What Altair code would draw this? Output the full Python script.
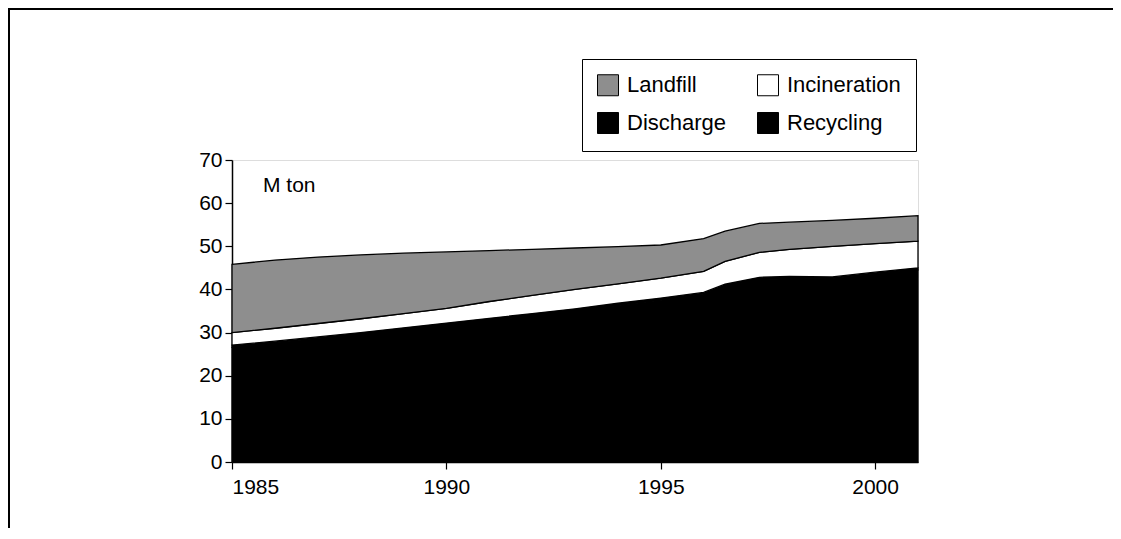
import altair as alt
import pandas as pd

# ---- data (M ton) ----
years = [1985, 1986, 1987, 1988, 1989, 1990, 1991, 1992, 1993, 1994, 1995,
         1996, 1996.5, 1997.3, 1998, 1999, 2000, 2001]
recycling = [26.6, 27.5, 28.5, 29.5, 30.6, 31.7, 32.8, 33.9, 35.0, 36.3, 37.5,
             38.8, 40.7, 42.3, 42.5, 42.4, 43.5, 44.5]
discharge = [0.5, 0.5, 0.5, 0.5, 0.5, 0.5, 0.5, 0.5, 0.5, 0.5, 0.5,
             0.5, 0.5, 0.5, 0.5, 0.5, 0.5, 0.5]
incineration = [2.9, 3.0, 3.1, 3.2, 3.3, 3.4, 3.9, 4.2, 4.5, 4.5, 4.6,
                4.9, 5.3, 5.8, 6.3, 7.1, 6.6, 6.2]
landfill = [15.8, 15.8, 15.4, 14.8, 14.0, 13.1, 11.8, 10.7, 9.6, 8.6, 7.7,
            7.6, 7.0, 6.7, 6.3, 6.0, 5.9, 5.9]

legend_order = ["Landfill", "Incineration", "Discharge", "Recycling"]
legend_colors = ["#8e8e8e", "#ffffff", "#000000", "#000000"]
stack_rank = {"Recycling": 0, "Discharge": 1, "Incineration": 2, "Landfill": 3}
x_ticks = [1985, 1990, 1995, 2000]
y_ticks = [0, 10, 20, 30, 40, 50, 60, 70]

series = {"Recycling": recycling, "Discharge": discharge,
          "Incineration": incineration, "Landfill": landfill}
rows = []
for name, vals in series.items():
    for yr, v in zip(years, vals):
        rows.append({"year": yr, "value": v, "type": name, "rank": stack_rank[name]})
df = pd.DataFrame(rows)

FONT = "Liberation Sans"

areas = alt.Chart(df).mark_area(stroke="black", strokeWidth=1.3, opacity=1).encode(
    x=alt.X("year:Q",
            scale=alt.Scale(domain=[1985, 2001], nice=False, zero=False),
            axis=alt.Axis(values=x_ticks, format="d", title=None, grid=False,
                          labelFontSize=21, labelFont=FONT, labelColor="black",
                          tickColor="black", tickSize=7, tickWidth=1.2,
                          domainColor="black", domainWidth=1.5, labelPadding=7)),
    y=alt.Y("value:Q", stack="zero",
            scale=alt.Scale(domain=[0, 70], nice=False),
            axis=alt.Axis(values=y_ticks, title=None, grid=False,
                          labelFontSize=21, labelFont=FONT, labelColor="black",
                          tickColor="black", tickSize=7, tickWidth=1.2,
                          domainColor="black", domainWidth=1.5, labelPadding=3)),
    color=alt.Color("type:N",
                    scale=alt.Scale(domain=legend_order, range=legend_colors),
                    legend=alt.Legend(title=None, orient="none", legendX=350, legendY=-101,
                                      direction="horizontal",
                                      columns=2, symbolType="square", symbolSize=441,
                                      symbolStrokeColor="black", symbolStrokeWidth=1,
                                      symbolOpacity=1,
                                      labelFont=FONT, labelFontSize=22, labelColor="black",
                                      labelOffset=8, rowPadding=12, columnPadding=28,
                                      padding=15, strokeColor="black", fillColor="white",
                                      labelLimit=300)),
    order=alt.Order("rank:Q", sort="ascending"),
)

unit_label = alt.Chart(alt.Data(values=[{"t": "M ton"}])).mark_text(
    font=FONT, fontSize=21, align="left", baseline="alphabetic", color="black"
).encode(x=alt.value(31), y=alt.value(32), text="t:N")

top_rule = alt.Chart(alt.Data(values=[{}])).mark_rule(color="black", strokeWidth=2).encode(
    x=alt.value(-224), x2=alt.value(881), y=alt.value(-151))
left_rule = alt.Chart(alt.Data(values=[{}])).mark_rule(color="black", strokeWidth=2).encode(
    x=alt.value(-223), y=alt.value(-152), y2=alt.value(368))

chart = alt.layer(areas, unit_label, top_rule, left_rule).properties(
    width=686, height=302,
    padding={"left": 224, "top": 152, "right": 195, "bottom": 66},
    autosize=alt.AutoSizeParams(type="none"),
).configure_view(stroke="black", strokeWidth=1.5).configure(background="white")

chart.save("out.html", embed_options={"renderer": "svg", "actions": False})
